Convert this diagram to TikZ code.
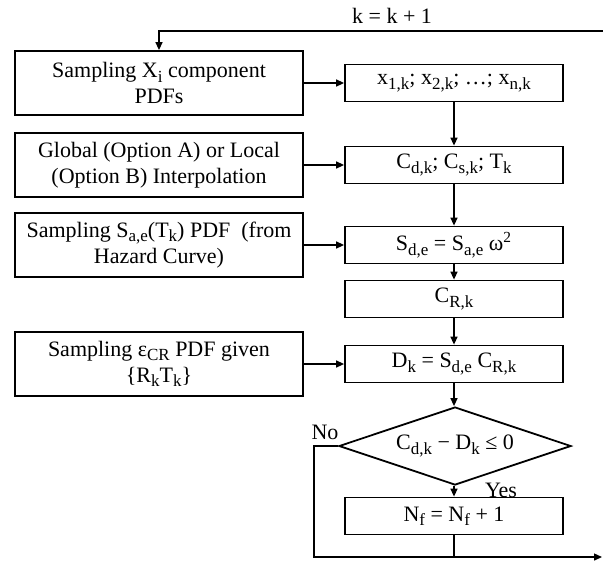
\documentclass[tikz,border=0pt]{standalone}
\usepackage{fontspec}
\setmainfont{Liberation Serif}
\usetikzlibrary{shapes.geometric,arrows.meta}

\newcommand{\lo}[1]{\raisebox{-0.45ex}{\fontsize{8.5}{8.5}\selectfont #1}}

\tikzset{
    txt/.style={font=\fontsize{11}{13}\selectfont},
    leftbox/.style={txt, draw, line width=0.9pt, minimum width=144pt, minimum height=32pt, align=center, inner sep=1pt},
    rightbox/.style={txt, draw, line width=0.9pt, minimum width=109pt, minimum height=18.5pt, inner sep=1pt},
    decision/.style={txt, diamond, draw, line width=0.9pt, aspect=3, inner sep=0pt, minimum width=116pt, minimum height=39pt},
    flow/.style={-{Triangle[length=4pt,width=3.5pt]}, line width=0.7pt},
}

\begin{document}
\begin{tikzpicture}[x=0.5pt,y=-0.5pt]
    \useasboundingbox (0,0) rectangle (603,568);

    % left column
    \node[leftbox] (sampx) at (159,83) {Sampling X\lo{i} component\\PDFs};
    \node[leftbox] (interp) at (159,165) {Global (Option A) or Local\\(Option B) Interpolation};
    \node[leftbox] (sampsa) at (159,245) {Sampling S\lo{a,e}(T\lo{k}) PDF~ (from\\Hazard Curve)};
    \node[leftbox] (sampeps) at (159,364) {Sampling ε\lo{CR} PDF given\\\{R\lo{k}T\lo{k}\}};

    % right column
    \node[rightbox] (xk) at (454,83) {x\lo{1,k}; x\lo{2,k}; …; x\lo{n,k}};
    \node[rightbox] (cdk) at (454,165) {C\lo{d,k}; C\lo{s,k}; T\lo{k}};
    \node[rightbox] (sde) at (454,245) {S\lo{d,e} = S\lo{a,e} ω\textsuperscript{2}};
    \node[rightbox] (crk) at (454,299) {C\lo{R,k}};
    \node[rightbox] (dk) at (454,364) {D\lo{k} = S\lo{d,e} C\lo{R,k}};
    \node[decision] (test) at (455,446) {C\lo{d,k} − D\lo{k} ≤ 0};
    \node[rightbox] (nf) at (454,516) {N\lo{f} = N\lo{f} + 1};

    % labels
    \node[txt] (kinc) at (392,16) {k = k + 1};
    \node[txt] (nolab) at (325,432) {No};
    \node[txt] (yeslab) at (501,490) {Yes};

    \coordinate (loopin) at (603,31);
    \coordinate (noturn) at (314,557);
    \coordinate (loopout) at (602,557);

    % connectors
    \draw[flow] (sampx) -- (xk);
    \draw[flow] (interp) -- (cdk);
    \draw[flow] (sampsa) -- (sde);
    \draw[flow] (sampeps) -- (dk);
    \draw[flow] (xk) -- (cdk);
    \draw[flow] (cdk) -- (sde);
    \draw[flow] (sde) -- (crk);
    \draw[flow] (crk) -- (dk);
    \draw[flow] (dk) -- (dk |- test.north);
    \draw[flow] (test.south -| nf) -- (nf);
    \draw[flow] (test.west) -| (noturn) -- (loopout);
    \draw[line width=0.7pt] (nf) -- (nf |- loopout);
    \draw[flow] (loopin) -| (sampx.north);
\end{tikzpicture}
\end{document}
